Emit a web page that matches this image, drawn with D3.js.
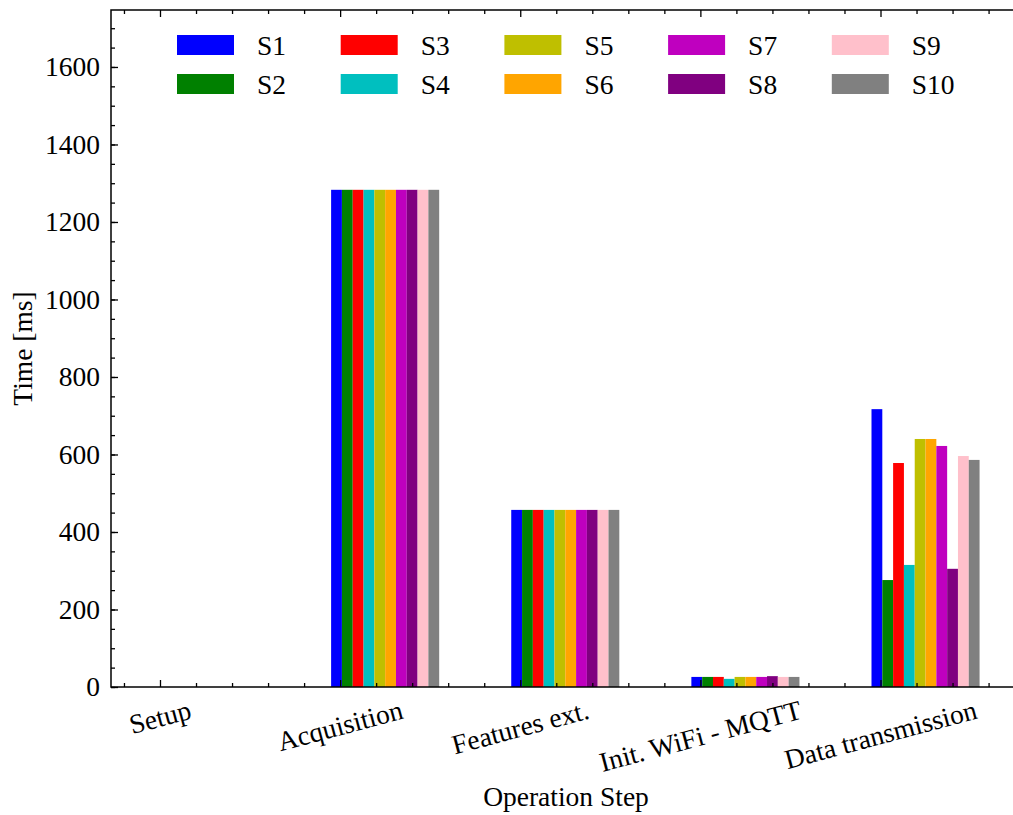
<!DOCTYPE html>
<html>
<head>
<meta charset="utf-8">
<script src="https://cdn.jsdelivr.net/npm/d3@7"></script>
<style>
  body { margin: 0; background: #fff; }
  svg { display: block; }
  svg text { font-family: "Liberation Serif", "DejaVu Serif", serif; fill: #000; }
</style>
</head>
<body>
<svg id="chart"></svg>
<script>
let steps = ["Setup", "Acquisition", "Features ext.", "Init. WiFi - MQTT", "Data transmission"]
let seriesNames = ["S1", "S2", "S3", "S4", "S5", "S6", "S7", "S8", "S9", "S10"]
let colors = ["#0000ff", "#008000", "#ff0000", "#00bfbf", "#bfbf00", "#ffa500", "#bf00bf", "#800080", "#ffc0cb", "#808080"]

// one array per series, values per step (ms)
let s1 = [0, 1283, 457, 26, 717]
let s2 = [0, 1283, 457, 26, 276]
let s3 = [0, 1283, 457, 26, 578]
let s4 = [0, 1283, 457, 21, 315]
let s5 = [0, 1283, 457, 26, 640]
let s6 = [0, 1283, 457, 26, 640]
let s7 = [0, 1283, 457, 26, 622]
let s8 = [0, 1283, 457, 28, 305]
let s9 = [0, 1283, 457, 26, 596]
let s10 = [0, 1283, 457, 26, 586]
let series = [s1, s2, s3, s4, s5, s6, s7, s8, s9, s10]

let yTicks = [0, 200, 400, 600, 800, 1000, 1200, 1400, 1600]

let width = 1013
let height = 815
let padLeft = 111
let padRight = 1021
let padTop = 10
let padBottom = 687
let barW = 0.06
let fontSize = 27.5

let svg = d3.select("#chart").attr("width", width).attr("height", height)

let xScale = d3.scaleLinear().domain([-0.272, 4.78]).range([padLeft, padRight])
let yScale = d3.scaleLinear().domain([0, 1747]).range([padBottom, padTop])

// bars
series.forEach((vals, si) => {
    svg.append("g")
        .selectAll("rect")
        .data(vals)
        .enter()
        .append("rect")
        .attr("x", (d, i) => xScale(i - 0.05 + si * barW))
        .attr("width", xScale(barW) - xScale(0))
        .attr("y", d => yScale(d))
        .attr("height", d => yScale(0) - yScale(d))
        .attr("fill", colors[si])
})

// axes, ticks inward
let minorY = d3.range(0, 1750, 50)
let minorX = d3.range(-0.2, 4.8, 0.2).filter(v => Math.abs(v - Math.round(v)) > 0.01)

let yAxis = d3.axisLeft(yScale).tickValues(yTicks).tickSize(-7).tickPadding(11).tickFormat(d3.format("d"))
let yMinor = d3.axisLeft(yScale).tickValues(minorY).tickSize(-4).tickFormat("")
let yRight = d3.axisRight(yScale).tickValues(yTicks).tickSize(-7).tickFormat("")
let yRightMinor = d3.axisRight(yScale).tickValues(minorY).tickSize(-4).tickFormat("")

let xAxis = d3.axisBottom(xScale).tickValues(d3.range(0, 5)).tickSize(-7).tickFormat("")
let xMinor = d3.axisBottom(xScale).tickValues(minorX).tickSize(-4).tickFormat("")
let xTop = d3.axisTop(xScale).tickValues(d3.range(0, 5)).tickSize(-7).tickFormat("")
let xTopMinor = d3.axisTop(xScale).tickValues(minorX).tickSize(-4).tickFormat("")

let addAxis = (axis, tx, ty) => {
    let g = svg.append("g").attr("transform", "translate(" + tx + "," + ty + ")").call(axis)
    g.attr("font-family", null).attr("font-size", fontSize)
    g.select(".domain").remove()
    g.selectAll("line").attr("stroke", "#000").attr("stroke-width", 1.3)
    return g
}
addAxis(yAxis, padLeft, 0)
addAxis(yMinor, padLeft, 0)
addAxis(yRight, padRight, 0)
addAxis(yRightMinor, padRight, 0)
addAxis(xAxis, 0, padBottom)
addAxis(xMinor, 0, padBottom)
addAxis(xTop, 0, padTop)
addAxis(xTopMinor, 0, padTop)

// frame
svg.append("rect")
    .attr("x", padLeft).attr("y", padTop)
    .attr("width", padRight - padLeft).attr("height", padBottom - padTop)
    .attr("fill", "none").attr("stroke", "#000").attr("stroke-width", 1.5)

// category labels, rotated 15 degrees, top of rotated box just under the axis
let angle = 15 * Math.PI / 180
svg.append("g")
    .selectAll("text")
    .data(steps)
    .enter()
    .append("text")
    .attr("text-anchor", "middle")
    .attr("dominant-baseline", "central")
    .attr("font-size", fontSize)
    .text(d => d)
    .attr("transform", function (d, i) {
        let w = this.getComputedTextLength()
        let h = fontSize * 0.75
        let halfH = (w * Math.sin(angle) + h * Math.cos(angle)) / 2
        return "translate(" + xScale(i) + "," + (padBottom + 12 + halfH) + ") rotate(-15)"
    })

// axis titles
svg.append("text")
    .attr("x", (padLeft + 1013) / 2 + 4)
    .attr("y", 806)
    .attr("text-anchor", "middle")
    .attr("font-size", fontSize)
    .text("Operation Step")

svg.append("text")
    .attr("transform", "translate(32," + ((padTop + padBottom) / 2) + ") rotate(-90)")
    .attr("text-anchor", "middle")
    .attr("font-size", fontSize)
    .text("Time [ms]")

// legend, 5 columns, filled column by column
let legend = svg.append("g")
seriesNames.forEach((name, i) => {
    let col = Math.floor(i / 2)
    let row = i % 2
    let lx = 177 + col * 163.7
    let ly = 35 + row * 39
    legend.append("rect")
        .attr("x", lx).attr("y", ly)
        .attr("width", 57).attr("height", 20)
        .attr("fill", colors[i])
    legend.append("text")
        .attr("x", lx + 80).attr("y", ly + 10)
        .attr("dominant-baseline", "central")
        .attr("font-size", fontSize)
        .text(name)
})
</script>
</body>
</html>
